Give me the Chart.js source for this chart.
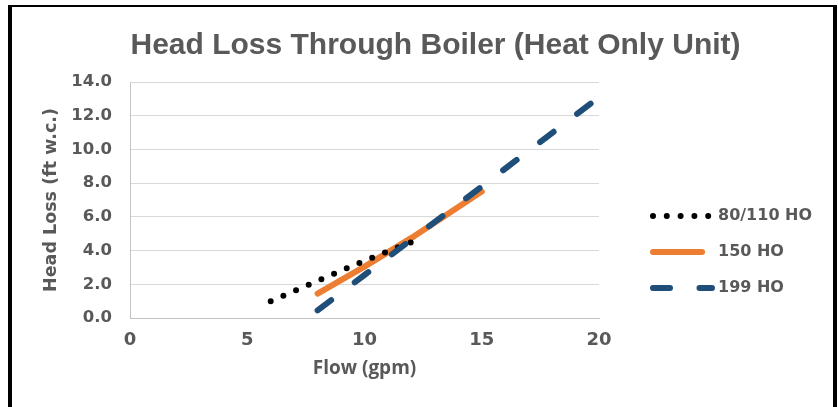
<!DOCTYPE html>
<html><head><meta charset="utf-8">
<script src="https://cdn.jsdelivr.net/npm/chart.js@4.4.1/dist/chart.umd.min.js"></script>
<style>
html,body{margin:0;padding:0;background:#fff;}
#wrap{position:relative;width:838px;height:407px;overflow:hidden;background:#fff;}
#frame{position:absolute;left:8px;top:5px;width:821px;height:500px;border-top:2px solid #000;border-left:4px solid #000;border-right:4px solid #000;pointer-events:none;}
canvas{position:absolute;left:0;top:0;}
</style></head><body>
<div id="wrap"><canvas id="c" width="838" height="407"></canvas><div id="frame"></div></div>
<script>
// ---- data ----
const seriesNames = ['80/110 HO', '150 HO', '199 HO'];
const flow80  = [6, 8, 10, 12];
const head80  = [1.0, 2.2, 3.4, 4.5];
const flow150 = [8, 10, 12, 15];
const head150 = [1.45, 3.05, 4.75, 7.5];
const flow199 = [8, 10, 12, 15, 20];
const head199 = [0.45, 2.55, 4.65, 7.8, 13.1];
const xTicks = [0, 5, 10, 15, 20];
const yTicks = [0, 2, 4, 6, 8, 10, 12, 14];
const chartTitle = 'Head Loss Through Boiler (Heat Only Unit)';
const xTitle = 'Flow (gpm)';
const yTitle = 'Head Loss (ft w.c.)';

const pts = (xs, ys) => xs.map((x, i) => ({x: x, y: ys[i]}));
const TXT = '#595959';

const sideLegend = {
  id: 'sideLegend',
  afterDraw(chart, args, o) {
    const ctx = chart.ctx, area = chart.chartArea;
    chart.data.datasets.forEach((ds, i) => {
      const y = o.top + i * o.spacing;
      const x0 = area.right + o.gap;
      ctx.save();
      ctx.strokeStyle = ds.borderColor;
      ctx.lineWidth = ds.borderWidth;
      ctx.lineCap = ds.borderCapStyle;
      ctx.setLineDash(ds.borderDash || []);
      ctx.beginPath();
      ctx.moveTo(x0, y);
      ctx.lineTo(x0 + o.lengths[i], y);
      ctx.stroke();
      ctx.setLineDash([]);
      ctx.fillStyle = o.color;
      ctx.font = o.font;
      ctx.textBaseline = 'middle';
      ctx.textAlign = 'left';
      ctx.fillText(ds.label, area.right + o.textGap, y);
      ctx.restore();
    });
  }
};

new Chart(document.getElementById('c'), {
  type: 'scatter',
  data: {
    datasets: [
      {label: seriesNames[0], data: pts(flow80, head80), showLine: true, pointRadius: 0, order: 1,
       borderColor: '#000000', borderWidth: 6, borderCapStyle: 'round', borderDash: [0, 13.8]},
      {label: seriesNames[1], data: pts(flow150, head150), showLine: true, pointRadius: 0, order: 2,
       borderColor: '#ED7D31', borderWidth: 6, borderCapStyle: 'round', borderDash: []},
      {label: seriesNames[2], data: pts(flow199, head199), showLine: true, pointRadius: 0, order: 0,
       borderColor: '#1F4E79', borderWidth: 6, borderCapStyle: 'round', borderDash: [17, 29.5]}
    ]
  },
  options: {
    responsive: false,
    animation: false,
    devicePixelRatio: 1,
    layout: {padding: {left: 33, right: 0, top: 0, bottom: 0}},
    plugins: {
      legend: {display: false},
      tooltip: {enabled: false},
      title: {display: true, text: chartTitle, color: TXT,
              font: {family: 'Liberation Sans', weight: 'bold', size: 30},
              padding: {top: 28, bottom: 18}},
      sideLegend: {top: 216, spacing: 36, gap: 54, textGap: 119, lengths: [57, 49, 59],
                   color: TXT, font: 'bold 16px "DejaVu Sans"'}
    },
    scales: {
      x: {
        type: 'linear', min: 0, max: 20,
        afterBuildTicks: s => { s.ticks = xTicks.map(v => ({value: v})); },
        afterFit: s => { s.height = 89; },
        grid: {display: false, drawTicks: false},
        border: {display: true, color: '#c4c4c4', width: 1},
        ticks: {color: TXT, padding: 12, maxRotation: 0,
                font: {family: 'DejaVu Sans', weight: 'bold', size: 18}},
        title: {display: true, text: xTitle, color: TXT, padding: {top: 0, bottom: 27},
                font: {family: 'Open Sans', weight: 'bold', size: 19}}
      },
      y: {
        type: 'linear', min: 0, max: 14,
        afterBuildTicks: s => { s.ticks = yTicks.map(v => ({value: v})); },
        afterFit: s => { s.width = 97; },
        grid: {color: '#d9d9d9', lineWidth: 1, drawTicks: false},
        border: {display: true, color: '#c4c4c4', width: 1},
        ticks: {color: TXT, padding: 18, callback: v => v.toFixed(1),
                font: {family: 'DejaVu Sans', weight: 'bold', size: 16.5}},
        title: {display: true, text: yTitle, color: TXT, padding: {top: 8, bottom: 0},
                font: {family: 'DejaVu Sans', weight: 'bold', size: 17.5}}
      },
      y2: {
        type: 'linear', position: 'right', display: true,
        afterFit: s => { s.width = 239; },
        grid: {display: false, drawTicks: false},
        border: {display: false},
        ticks: {display: false}
      }
    }
  },
  plugins: [sideLegend]
});
</script>
</body></html>
